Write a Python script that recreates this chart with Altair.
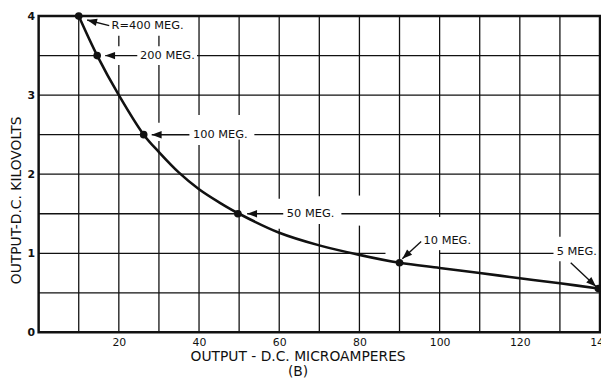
import math
import altair as alt
import pandas as pd

W, H = 568, 320
X_MAX, Y_MAX = 140, 4

# ---- data ----
curve_x = [10, 14.6, 20, 26.2, 30, 35, 40, 45, 50, 60, 70, 80, 90, 100, 110, 120, 130, 139.6]
curve_y = [4.0, 3.5, 3.0, 2.5, 2.28, 2.02, 1.81, 1.645, 1.5, 1.26, 1.10, 0.98, 0.88, 0.815, 0.75, 0.685, 0.62, 0.555]

point_x = [10, 14.6, 26.2, 49.7, 90, 139.6]
point_y = [4.0, 3.5, 2.5, 1.5, 0.88, 0.555]

label_text = ["R=400 MEG.", "200 MEG.", "100 MEG.", "50 MEG.", "10 MEG.", "5 MEG."]
label_x = [18.2, 25.3, 38.5, 61.9, 96.0, 129.2]
label_y = [3.88, 3.5, 2.5, 1.5, 1.16, 1.02]

arrow_from_x = [17.6, 24.6, 37.6, 61.0, 95.4, 132.7]
arrow_from_y = [3.88, 3.5, 2.5, 1.5, 1.15, 0.88]
arrow_to_x = [12.1, 16.6, 28.2, 52.0, 90.7, 139.0]
arrow_to_y = [3.95, 3.5, 2.5, 1.5, 0.93, 0.58]

x_ticks = [20, 40, 60, 80, 100, 120, 140]
y_ticks = [0, 1, 2, 3, 4]

grid_x = [10, 20, 30, 40, 50, 60, 70, 80, 90, 100, 110, 120, 130]
grid_y = [0.5, 1.0, 1.5, 2.0, 2.5, 3.0, 3.5]

# breaks in the grid lines where labels sit
vgap_at = [20, 20, 30, 30, 30, 40, 50, 60, 70, 80, 100, 130]
vgap_lo = [3.75, 3.38, 3.75, 3.38, 2.42, 2.37, 2.44, 1.31, 1.37, 1.35, 1.04, 0.90]
vgap_hi = [4.0, 3.62, 4.0, 3.62, 2.65, 2.75, 2.75, 1.69, 1.72, 1.73, 1.46, 1.21]

hgap_at = [3.5, 2.5, 1.5, 1.0, 1.0]
hgap_lo = [14.6, 26.2, 49.7, 86.5, 128.4]
hgap_hi = [39.5, 53.8, 75.5, 100.0, 140.0]


def segments(lines, lo, hi, g_at, g_lo, g_hi):
    rows = []
    for v in lines:
        gaps = sorted((a, b) for g, a, b in zip(g_at, g_lo, g_hi) if g == v)
        start = lo
        for a, b in gaps:
            if a > start:
                rows.append({"v": v, "a": start, "b": a})
            start = max(start, b)
        if start < hi:
            rows.append({"v": v, "a": start, "b": hi})
    return pd.DataFrame(rows)


vdf = segments(grid_x, 0, Y_MAX, vgap_at, vgap_lo, vgap_hi)
hdf = segments(grid_y, 0, X_MAX, hgap_at, hgap_lo, hgap_hi)

curve_df = pd.DataFrame({"x": curve_x, "y": curve_y})
pts_df = pd.DataFrame({"x": point_x, "y": point_y})
lab_df = pd.DataFrame({"x": label_x, "y": label_y, "t": label_text})

angles = []
for x0, y0, x1, y1 in zip(arrow_from_x, arrow_from_y, arrow_to_x, arrow_to_y):
    dx = (x1 - x0) * W / X_MAX
    dy = -(y1 - y0) * H / Y_MAX
    angles.append(math.degrees(math.atan2(dy, dx)) % 360)
arr_df = pd.DataFrame({"x0": arrow_from_x, "y0": arrow_from_y,
                       "x1": arrow_to_x, "y1": arrow_to_y, "ang": angles})

FONT = "DejaVu Sans"
xs = alt.Scale(domain=[0, X_MAX], nice=False, zero=False)
ys = alt.Scale(domain=[0, Y_MAX], nice=False, zero=False)

x_axis = alt.Axis(values=x_ticks, format="d", grid=False, domain=False, ticks=False,
                  labelPadding=4, labelFontSize=11, labelFont=FONT, labelColor="#111",
                  labelFlush=False,
                  title=["OUTPUT - D.C. MICROAMPERES", "(B)"], titleFont=FONT,
                  titleFontSize=14, titleFontWeight="normal", titleColor="#111",
                  titleX=262, titleY=17, titleBaseline="top", titleLineHeight=16,
                  titleAlign="center")
y_axis = alt.Axis(values=y_ticks, format="d", grid=False, domain=False, ticks=False,
                  labelPadding=4, labelFontSize=11, labelFont=FONT, labelColor="#111",
                  labelFontWeight="bold",
                  title="OUTPUT-D.C. KILOVOLTS", titleFont=FONT, titleFontSize=14,
                  titleFontWeight="normal", titleColor="#111",
                  titleX=-22, titleY=186, titleAngle=270, titleAlign="center",
                  titleBaseline="middle")


def X(f):
    return alt.X(f, type="quantitative", scale=xs, axis=x_axis)


def Y(f):
    return alt.Y(f, type="quantitative", scale=ys, axis=y_axis)


vgrid = alt.Chart(vdf).mark_rule(color="#111", strokeWidth=1.3).encode(
    x=X("v"), y=Y("a"), y2="b")
hgrid = alt.Chart(hdf).mark_rule(color="#111", strokeWidth=1.3).encode(
    y=Y("v"), x=X("a"), x2="b")
curve = alt.Chart(curve_df).mark_line(color="#111", strokeWidth=2.6,
                                      interpolate="catmull-rom").encode(x=X("x"), y=Y("y"))
points = alt.Chart(pts_df).mark_circle(color="#111", size=60, opacity=1).encode(
    x=X("x"), y=Y("y"))
shafts = alt.Chart(arr_df).mark_rule(color="#111", strokeWidth=1.4).encode(
    x=X("x0"), y=Y("y0"), x2="x1", y2="y1")
heads = alt.Chart(arr_df).mark_point(shape="M0,0L-2,-0.75L-2,0.75Z", filled=True,
                                     size=100, color="#111", opacity=1,
                                     strokeWidth=0).encode(
    x=X("x1"), y=Y("y1"), angle=alt.Angle("ang:Q", scale=None))
texts = alt.Chart(lab_df).mark_text(align="left", baseline="middle", font=FONT,
                                    fontSize=11.5, color="#111").encode(
    x=X("x"), y=Y("y"), text="t:N")

chart = alt.layer(vgrid, hgrid, curve, shafts, heads, points, texts).properties(
    width=W, height=H,
    autosize=alt.AutoSizeParams(type="none"),
    padding={"left": 31, "top": 6, "right": 1, "bottom": 44},
    background="white",
).configure_view(stroke="#111", strokeWidth=2.5)

chart.save("out.html", embed_options={"renderer": "svg", "actions": False})
